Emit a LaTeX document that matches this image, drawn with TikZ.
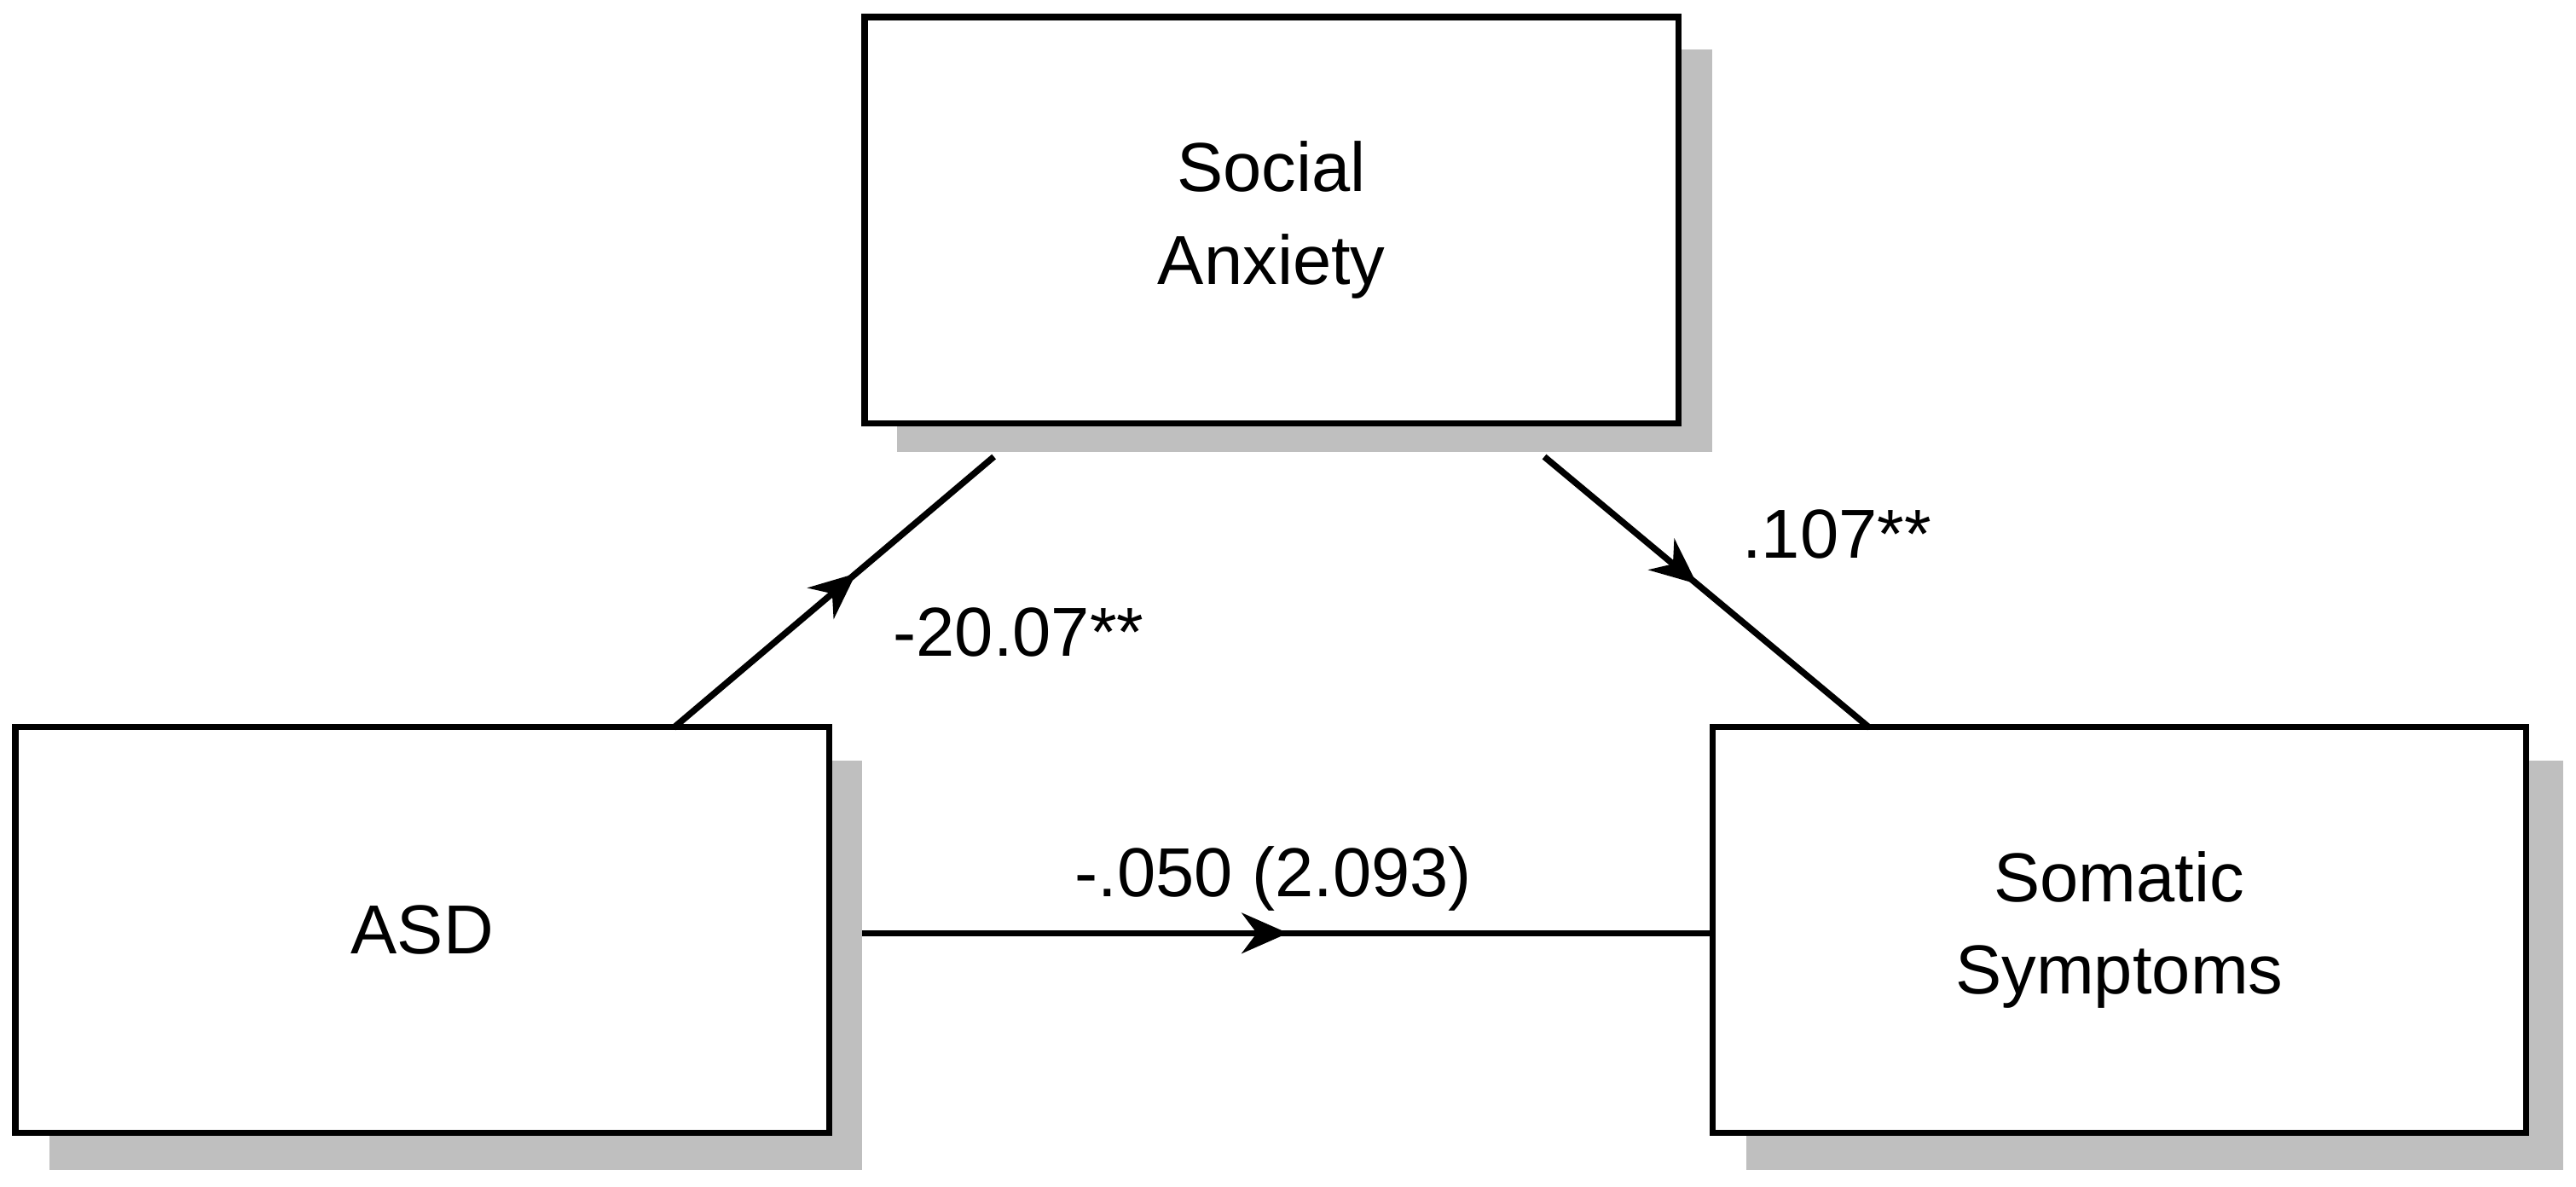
\documentclass[tikz,border=0pt]{standalone}
\usepackage{fontspec}
\setmainfont{Liberation Sans}
\usetikzlibrary{decorations.markings,arrows.meta}
\begin{document}
\begin{tikzpicture}[x=0.01cm,y=-0.01cm,
  box/.style={draw=black,line width=1.1pt,fill=white,minimum width=4.95cm,minimum height=2.47cm,align=center,font=\fontsize{12}{16}\selectfont},
  shadow/.style={fill=black!25,draw=none},
  path/.style={line width=1.1pt,postaction={decorate},decoration={markings,mark=at position #1 with {\arrow{Stealth[length=8pt,width=7pt]}}}},
  lab/.style={font=\fontsize{12}{15}\selectfont}]
\useasboundingbox (0,0) rectangle (1568,722);
\fill[shadow] (546,30) rectangle (1042,275);
\fill[shadow] (30,463) rectangle (525,712);
\fill[shadow] (1063,463) rectangle (1560,712);
\node[box] (sa) at (774,134) {Social\\Anxiety};
\node[box] (asd) at (257,566) {ASD};
\node[box] (ss) at (1290,566) {Somatic\\Symptoms};
\coordinate (a1) at (410,443);
\coordinate (a2) at (605,278);
\coordinate (b1) at (940,278);
\coordinate (b2) at (1138,443);
\coordinate (c1) at (525,568);
\coordinate (c2) at (1043,568);
\draw[path=0.57] (a1) -- (a2);
\draw[path=0.47] (b1) -- (b2);
\draw[path=0.5] (c1) -- (c2);
\node[lab] (l1) at (620,385) {-20.07**};
\node[lab] (l2) at (1118,325) {.107**};
\node[lab] (l3) at (775,535) {-.050 (2.093)};
\end{tikzpicture}
\end{document}
